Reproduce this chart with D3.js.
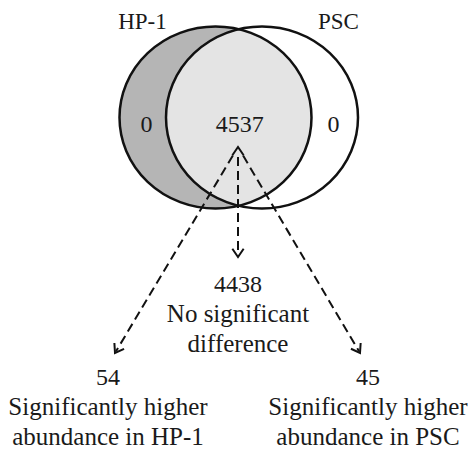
<!DOCTYPE html>
<html>
<head>
<meta charset="utf-8">
<script src="https://d3js.org/d3.v7.min.js"></script>
<style>
  body { margin: 0; background: #fff; }
  text { font-family: "Liberation Serif", "Times New Roman", serif; fill: #1a1a1a; }
</style>
</head>
<body>
<div id="venn"></div>
<script>
// sets and counts in the venn
var sets = ["HP-1", "PSC"];
var uniqueCounts = [0, 0];
var sharedCount = 4537;

// what the shared proteins split into
var outcomes = ["higherHP1", "noDiff", "higherPSC"];
var outcomeCounts = [54, 4438, 45];
var outcomeLabels = [
    ["Significantly higher", "abundance in HP-1"],
    ["No significant", "difference"],
    ["Significantly higher", "abundance in PSC"]
];

var w = 471, h = 449;

// circle centres
var xSet = d3.scalePoint()
    .domain(sets)
    .range([215.5, 262]);

// where each label column sits
var xOut = d3.scalePoint()
    .domain(outcomes)
    .range([108, 368]);

// vertical rows: 0 = set label, 1 = counts, 2 = arrow apex
var y = d3.scaleLinear().domain([0, 1]).range([0, 1]);

var rx = 96, ry = 91, cy = 117.5;

var svg = d3.select("#venn")
    .append("svg")
        .attr("width", w)
        .attr("height", h);

var defs = svg.append("defs");
defs.append("clipPath")
    .attr("id", "clipLeft")
    .append("ellipse")
        .attr("cx", xSet(sets[0]))
        .attr("cy", cy)
        .attr("rx", rx)
        .attr("ry", ry);

// left set (only part shows dark)
svg.append("ellipse")
    .attr("cx", xSet(sets[0]))
    .attr("cy", cy)
    .attr("rx", rx)
    .attr("ry", ry)
    .style("fill", "#b5b5b5");

// overlap
svg.append("ellipse")
    .attr("clip-path", "url(#clipLeft)")
    .attr("cx", xSet(sets[1]))
    .attr("cy", cy)
    .attr("rx", rx)
    .attr("ry", ry)
    .style("fill", "#e4e4e4");

svg.selectAll(".outline")
    .data(sets)
    .enter().append("ellipse")
        .attr("class", "outline")
        .attr("cx", function(d){ return xSet(d); })
        .attr("cy", cy)
        .attr("rx", rx)
        .attr("ry", ry)
        .style("fill", "none")
        .style("stroke", "#111")
        .style("stroke-width", "2.5px");

// set names
svg.selectAll(".setlabel")
    .data(sets)
    .enter().append("text")
        .attr("class", "setlabel")
        .attr("x", function(d, i){ return xSet(d) + (i === 0 ? -73 : 76.5); })
        .attr("y", y(29))
        .attr("text-anchor", "middle")
        .style("font-size", "23px")
        .text(function(d){ return d; });

// unique counts
svg.selectAll(".unique")
    .data(uniqueCounts)
    .enter().append("text")
        .attr("class", "unique")
        .attr("x", function(d, i){ return xSet(sets[i]) + (i === 0 ? -69 : 71.5); })
        .attr("y", y(132))
        .attr("text-anchor", "middle")
        .style("font-size", "24px")
        .text(function(d){ return d; });

svg.append("text")
    .attr("x", (xSet(sets[0]) + xSet(sets[1])) / 2 + 1)
    .attr("y", y(132))
    .attr("text-anchor", "middle")
    .style("font-size", "24px")
    .text(sharedCount);

// arrows
var apex = [238, y(147)];
var tips = [[115, y(353)], [238, y(257)], [360, y(353)]];

function chevron(tip, dir, len, spread){
    var a = Math.atan2(dir[1], dir[0]);
    var p1 = [tip[0] - len * Math.cos(a - spread), tip[1] - len * Math.sin(a - spread)];
    var p2 = [tip[0] - len * Math.cos(a + spread), tip[1] - len * Math.sin(a + spread)];
    return d3.line()([p1, tip, p2]);
}

var arrows = svg.append("g")
    .style("stroke", "#111")
    .style("fill", "none")
    .style("stroke-width", "2px");

tips.forEach(function(t){
    var dx = t[0] - apex[0], dy = t[1] - apex[1];
    var L = Math.sqrt(dx * dx + dy * dy);
    var ux = dx / L, uy = dy / L;
    arrows.append("path")
        .attr("d", d3.line()([[apex[0] + ux * 10, apex[1] + uy * 10], [t[0] - ux * 2, t[1] - uy * 2]]))
        .style("stroke-dasharray", "9,5");
    arrows.append("path")
        .attr("d", chevron(t, [ux, uy], 10, 0.6));
});

// arrowhead pointing up at apex
arrows.append("path")
    .attr("d", chevron(apex, [0, -1], 10, 0.6));

// outcome labels
var groups = svg.selectAll(".outcome")
    .data(outcomes)
    .enter().append("g")
        .attr("class", "outcome")
        .attr("transform", function(d, i){
            var top = (d === "noDiff") ? 292 : 385;
            var xx = (d === "noDiff") ? 238 : xOut(d);
            return "translate(" + xx + "," + y(top) + ")";
        });

groups.append("text")
    .attr("text-anchor", "middle")
    .style("font-size", "24px")
    .text(function(d, i){ return outcomeCounts[i]; });

groups.selectAll(".line")
    .data(function(d, i){ return outcomeLabels[i]; })
    .enter().append("text")
        .attr("class", "line")
        .attr("text-anchor", "middle")
        .attr("y", function(d, i){ return 30 * (i + 1); })
        .style("font-size", "25px")
        .text(function(d){ return d; });
</script>
</body>
</html>
